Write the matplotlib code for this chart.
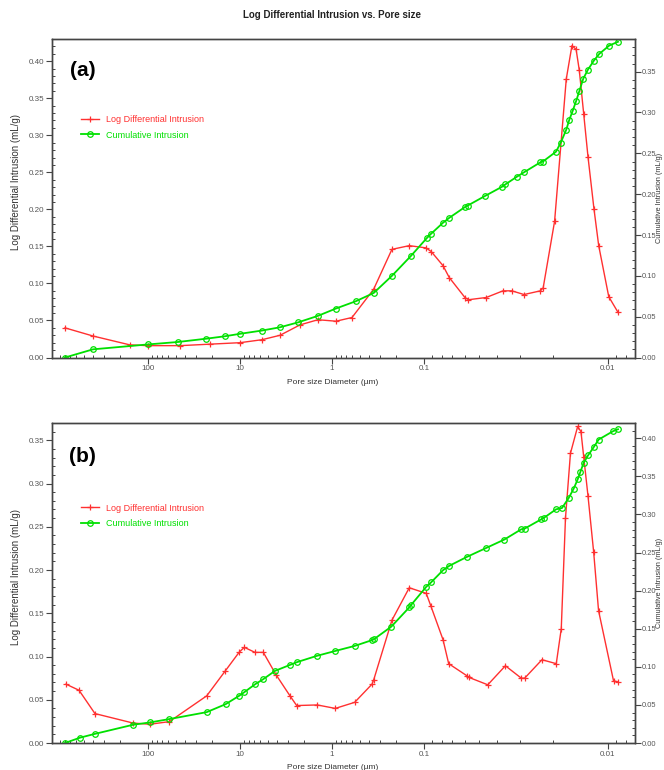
import numpy as np
import matplotlib
matplotlib.use("Agg")
import matplotlib.pyplot as plt
from matplotlib.ticker import MultipleLocator, FixedLocator, FixedFormatter, FormatStrFormatter, LogLocator, NullFormatter

plt.rcParams['font.family'] = ['Liberation Sans', 'DejaVu Sans']

# ---------------- data: panel (a) ----------------
a_ldi_d = [798, 396, 157, 100, 44.9, 21.2, 10, 5.77, 3.67, 2.23, 1.42, 0.905, 0.606, 0.353,
           0.223, 0.1445, 0.0975, 0.0913, 0.0788, 0.0729, 0.0599, 0.0573, 0.0459, 0.0372,
           0.0333, 0.0286, 0.0233, 0.0225, 0.0195, 0.01685, 0.0157, 0.0149, 0.01432, 0.01355,
           0.01284, 0.01192, 0.01123, 0.0099, 0.00882]
a_ldi_v = [0.040, 0.029, 0.017, 0.016, 0.016, 0.018, 0.020, 0.024, 0.030, 0.044, 0.051, 0.049,
           0.054, 0.092, 0.146, 0.151, 0.148, 0.143, 0.124, 0.108, 0.081, 0.078, 0.081, 0.090,
           0.090, 0.085, 0.090, 0.094, 0.184, 0.376, 0.421, 0.416, 0.388, 0.329, 0.271, 0.201,
           0.151, 0.082, 0.061]
a_cum_d = [798, 396, 100, 47.2, 23.4, 14.6, 10, 5.77, 3.67, 2.34, 1.42, 0.905, 0.548, 0.352,
           0.223, 0.1396, 0.0967, 0.0920, 0.0788, 0.0729, 0.0601, 0.0579, 0.0464, 0.0377,
           0.0361, 0.0312, 0.0285, 0.0233, 0.02256, 0.01916, 0.01807, 0.01685, 0.01623,
           0.01555, 0.01487, 0.01432, 0.01362, 0.01284, 0.01192, 0.01115, 0.00984, 0.00882]
a_cum_v = [0.0, 0.010, 0.016, 0.019, 0.023, 0.026, 0.029, 0.033, 0.037, 0.043, 0.051, 0.060,
           0.069, 0.079, 0.100, 0.124, 0.146, 0.151, 0.165, 0.171, 0.184, 0.186, 0.198, 0.209,
           0.212, 0.2215, 0.227, 0.239, 0.240, 0.252, 0.263, 0.279, 0.291, 0.302, 0.3145,
           0.326, 0.3415, 0.3526, 0.3636, 0.3718, 0.382, 0.3866]

# ---------------- data: panel (b) ----------------
b_ldi_d = [778, 562, 377, 144.5, 95.1, 58.6, 23.0, 14.6, 10.2, 8.98, 6.87, 5.58, 4.06, 2.86,
           2.42, 1.445, 0.921, 0.567, 0.3674, 0.352, 0.223, 0.1445, 0.0972, 0.0916, 0.0788,
           0.0734, 0.0584, 0.0572, 0.0450, 0.0361, 0.0296, 0.02836, 0.02284, 0.0191, 0.01794,
           0.01702, 0.01599, 0.01461, 0.01402, 0.01355, 0.01284, 0.01196, 0.01125, 0.00933,
           0.0088]
b_ldi_v = [0.068, 0.061, 0.034, 0.023, 0.0217, 0.0247, 0.0545, 0.0827, 0.105, 0.1106, 0.1048,
           0.1048, 0.079, 0.0545, 0.0433, 0.044, 0.040, 0.047, 0.068, 0.073, 0.142, 0.1795,
           0.173, 0.158, 0.1195, 0.0917, 0.0777, 0.076, 0.0673, 0.0893, 0.075, 0.075, 0.0963,
           0.0917, 0.1322, 0.26, 0.335, 0.366, 0.360, 0.331, 0.2857, 0.2207, 0.153, 0.072,
           0.0705]
b_cum_d = [798, 548, 377, 144.5, 95.1, 58.6, 23.0, 14.3, 10.2, 8.98, 6.87, 5.58, 4.17, 2.86,
           2.42, 1.467, 0.921, 0.567, 0.3674, 0.352, 0.2266, 0.1445, 0.1384, 0.0972, 0.0916,
           0.0788, 0.0729, 0.0584, 0.0459, 0.0366, 0.0296, 0.02836, 0.02304, 0.02236, 0.01916,
           0.01778, 0.01635, 0.01536, 0.01461, 0.01414, 0.01355, 0.01284, 0.01196, 0.01123,
           0.00939, 0.00882]
b_cum_v = [0.0, 0.007, 0.012, 0.024, 0.027, 0.0314, 0.0405, 0.051, 0.062, 0.0667, 0.077,
           0.0838, 0.0946, 0.1025, 0.106, 0.1143, 0.1208, 0.1274, 0.135, 0.136, 0.1527, 0.178,
           0.181, 0.205, 0.2107, 0.2268, 0.2325, 0.2443, 0.256, 0.267, 0.2805, 0.2814, 0.2936,
           0.2953, 0.3067, 0.3084, 0.3215, 0.3338, 0.346, 0.3555, 0.3678, 0.3774, 0.3882,
           0.3983, 0.4092, 0.4118]

x_ticks = [100, 10, 1, 0.1, 0.01]
x_tick_labels = ['100', '10', '1', '0.1', '0.01']

RED = '#ff3030'
GREEN = '#00e000'
AXC = '#444444'
TXT = '#555555'


def fwd(d):
    d = np.asarray(d, dtype=float)
    with np.errstate(divide='ignore', invalid='ignore'):
        l = np.log10(np.where(d > 0, d, 1e-12))
    return np.where(l >= -1, l, 2 * l + 1)


def inv(v):
    v = np.asarray(v, dtype=float)
    return np.where(v >= -1, 10.0 ** v, 10.0 ** ((v - 1) / 2))


fig = plt.figure(figsize=(6.64, 7.70), dpi=100)
fig.text(0.5, 1 - 15 / 770, 'Log Differential Intrusion vs. Pore size', ha='center', va='center',
         fontsize=7, fontweight='bold', color='#222222')

panels = [
    dict(rect=[52 / 664, 1 - 357.5 / 770, 583 / 664, 318.5 / 770], lylim=0.43, rylim=0.39,
         lmax=0.40, rmax=0.35, tag='(a)', tagy=0.90, legy=0.762, ylaby=0.55,
         ld=a_ldi_d, lv=a_ldi_v, cd=a_cum_d, cv=a_cum_v, xlaby=-0.066),
    dict(rect=[52 / 664, 1 - 743 / 770, 583 / 664, 320 / 770], lylim=0.37, rylim=0.42,
         lmax=0.35, rmax=0.40, tag='(b)', tagy=0.894, legy=0.748, ylaby=0.52,
         ld=b_ldi_d, lv=b_ldi_v, cd=b_cum_d, cv=b_cum_v, xlaby=-0.066),
]

for p in panels:
    ax = fig.add_axes(p['rect'])
    ax.set_xscale('function', functions=(fwd, inv))
    ax.set_xlim(1105, 0.00713)
    ax.set_ylim(0, p['lylim'])
    ax2 = ax.twinx()
    ax2.set_ylim(0, p['rylim'])

    l1, = ax.plot(p['ld'], p['lv'], color=RED, lw=1.0, marker='+', ms=5, mew=0.9,
                  label='Log Differential Intrusion')
    l2, = ax2.plot(p['cd'], p['cv'], color=GREEN, lw=1.3, marker='o', ms=4, mew=0.9,
                   mfc='none', label='Cumulative Intrusion')

    ax.xaxis.set_major_locator(FixedLocator(x_ticks))
    ax.xaxis.set_major_formatter(FixedFormatter(x_tick_labels))
    ax.xaxis.set_minor_locator(LogLocator(base=10, subs=np.arange(2, 10)))
    ax.xaxis.set_minor_formatter(NullFormatter())

    ax.yaxis.set_major_locator(FixedLocator(np.arange(0, p['lmax'] + 0.001, 0.05)))
    ax.yaxis.set_minor_locator(MultipleLocator(0.01))
    ax.yaxis.set_major_formatter(FormatStrFormatter('%.2f'))
    ax2.yaxis.set_major_locator(FixedLocator(np.arange(0, p['rmax'] + 0.001, 0.05)))
    ax2.yaxis.set_minor_locator(MultipleLocator(0.01))
    ax2.yaxis.set_major_formatter(FormatStrFormatter('%.2f'))

    for a in (ax, ax2):
        for s in a.spines.values():
            s.set_color(AXC)
            s.set_linewidth(1.0)
        a.tick_params(which='major', direction='out', length=4, width=0.8, color=AXC,
                      labelsize=5.8, labelcolor=TXT, pad=1.5)
        a.tick_params(which='minor', direction='in', length=2.5, width=0.7, color=AXC)
    ax2.tick_params(which='major', pad=0.5, labelsize=5.4)

    ax.set_xlabel('Pore size Diameter (µm)', fontsize=6, color='#333333')
    ax.xaxis.set_label_coords(0.482, p['xlaby'])
    ax.set_ylabel('Log Differential Intrusion (mL/g)', fontsize=7, color='#333333')
    ax.yaxis.set_label_coords(-0.053, p['ylaby'])
    ax2.set_ylabel('Cumulative Intrusion (mL/g)', fontsize=5.3, color='#333333', rotation=90,
                   va='center')
    ax2.yaxis.set_label_coords(1.0425, 0.5)

    ax.text(0.052, p['tagy'], p['tag'], transform=ax.transAxes, ha='center', va='center',
            fontsize=15, fontweight='bold', color='black')

    ax2.legend([l1, l2], ['Log Differential Intrusion', 'Cumulative Intrusion'],
               loc='upper left', bbox_to_anchor=(0.050, p['legy']), frameon=False,
               fontsize=6.5, labelcolor='linecolor', handlelength=2.0, handletextpad=0.8,
               labelspacing=0.75, borderpad=0, borderaxespad=0, numpoints=1)

fig.savefig('out.png', dpi=100)
